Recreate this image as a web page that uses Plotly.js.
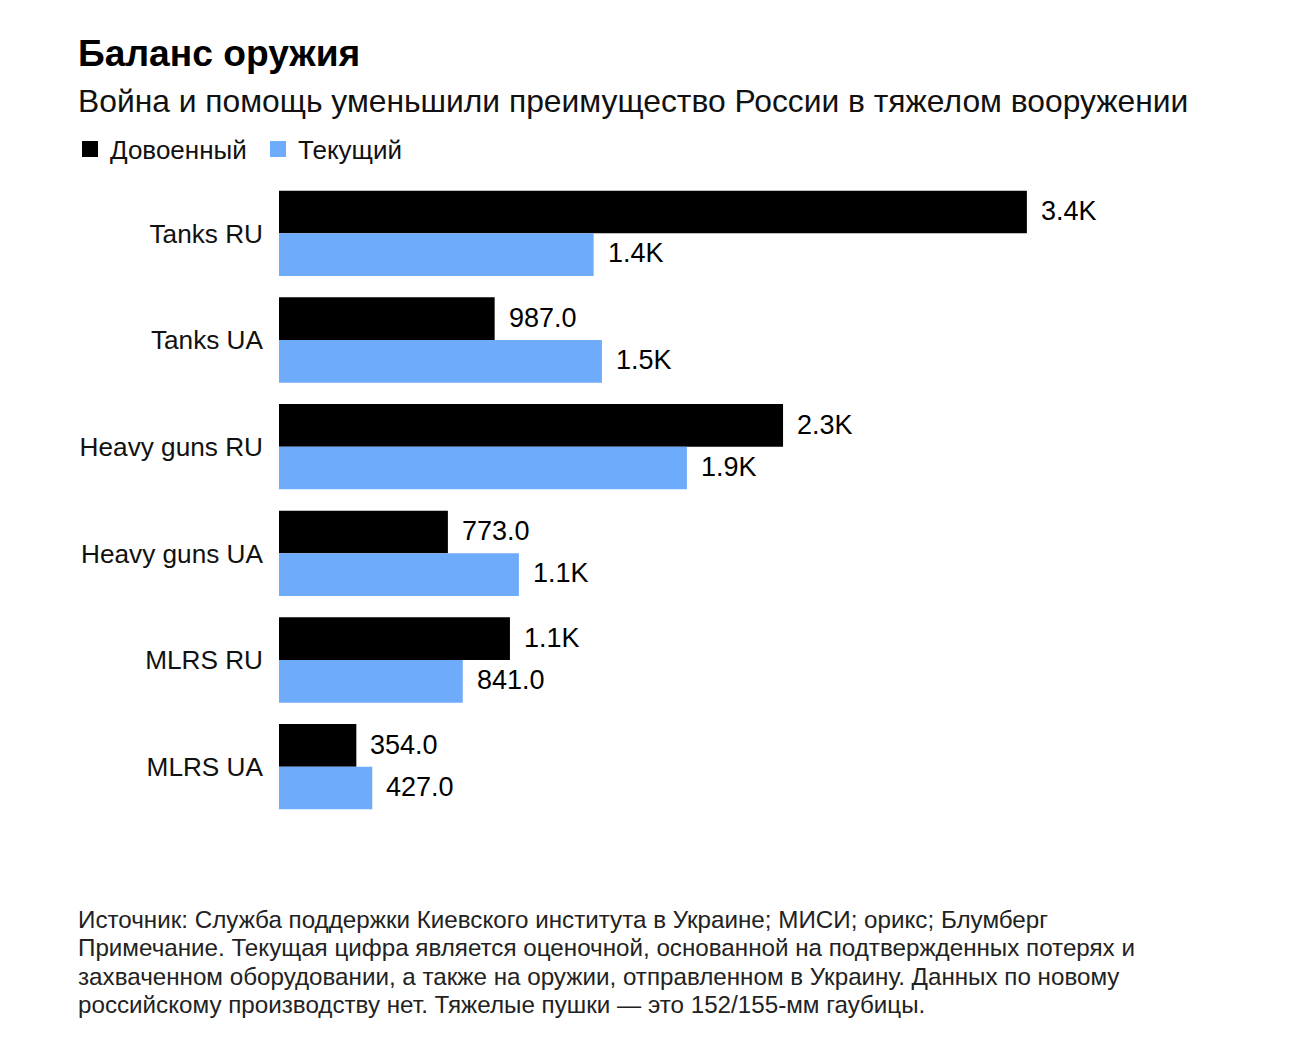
<!DOCTYPE html>
<html>
<head>
<meta charset="utf-8">
<script src="https://cdn.plot.ly/plotly-3.0.1.min.js"></script>
<style>html,body{margin:0;padding:0;background:#fff;}#chart{width:1314px;height:1049px;}</style>
</head>
<body>
<div id="chart"></div>
<script>
const categories = ["Tanks RU", "Tanks UA", "Heavy guns RU", "Heavy guns UA", "MLRS RU", "MLRS UA"];
const prewar = [3423, 987, 2307, 773, 1057, 354];
const current = [1440, 1478, 1867, 1098, 841, 427];
const seriesNames = ["Довоенный", "Текущий"];
const colors = ["#000000", "#6eabfa"];
const footnoteLines = [
  "Источник: Служба поддержки Киевского института в Украине; МИСИ; орикс; Блумберг",
  "Примечание. Текущая цифра является оценочной, основанной на подтвержденных потерях и",
  "захваченном оборудовании, а также на оружии, отправленном в Украину. Данных по новому",
  "российскому производству нет. Тяжелые пушки — это 152/155-мм гаубицы."
];

function fmt(v) {
  if (v >= 1000) return (Math.round(v / 100) / 10).toFixed(1) + "K";
  return v.toFixed(1);
}

const FONT = "Liberation Sans, Arial, sans-serif";
const PX0 = 279, PW = 955, PB = 820, PH = 640;
const px2x = p => (p - PX0) / PW;
const px2y = p => (PB - p) / PH;

const traces = [
  {type: "bar", orientation: "h", y: categories, x: prewar, name: seriesNames[0],
   marker: {color: colors[0]}, showlegend: false, hoverinfo: "x+name"},
  {type: "bar", orientation: "h", y: categories, x: current, name: seriesNames[1],
   marker: {color: colors[1]}, showlegend: false, hoverinfo: "x+name"},
  {type: "scatter", mode: "markers", x: [null], y: [null], name: seriesNames[0],
   marker: {color: colors[0], symbol: "square", size: 18}},
  {type: "scatter", mode: "markers", x: [null], y: [null], name: seriesNames[1],
   marker: {color: colors[1], symbol: "square", size: 18}}
];

const annotations = [];
categories.forEach((c, i) => {
  annotations.push({x: prewar[i], y: c, xref: "x", yref: "y", text: fmt(prewar[i]),
    showarrow: false, xanchor: "left", yanchor: "middle", xshift: 12, yshift: 22,
    font: {family: FONT, size: 27, color: "#000"}});
  annotations.push({x: current[i], y: c, xref: "x", yref: "y", text: fmt(current[i]),
    showarrow: false, xanchor: "left", yanchor: "middle", xshift: 12, yshift: -20,
    font: {family: FONT, size: 27, color: "#000"}});
});

annotations.push({
  xref: "paper", yref: "paper", x: px2x(76), y: px2y(101), xanchor: "left", yanchor: "middle",
  text: "Война и помощь уменьшили преимущество России в тяжелом вооружении",
  showarrow: false, font: {family: FONT, size: 31.8, color: "#111"}
});

const lineCenters = [919, 947.5, 976, 1004.5];
footnoteLines.forEach((t, i) => {
  annotations.push({
    xref: "paper", yref: "paper", x: px2x(76), y: px2y(lineCenters[i]), xanchor: "left", yanchor: "middle",
    align: "left", showarrow: false, text: t,
    font: {family: FONT, size: 24.2, color: "#222"}
  });
});

const layout = {
  width: 1314, height: 1049,
  paper_bgcolor: "#fff", plot_bgcolor: "#fff",
  margin: {l: 279, r: 80, t: 180, b: 229, pad: 0},
  font: {family: FONT, color: "#000"},
  title: {text: "<b>Баланс оружия</b>", xref: "container", yref: "container",
    x: 78 / 1314, xanchor: "left", y: 1 - 53 / 1049, yanchor: "middle",
    font: {family: FONT, size: 37.2, color: "#000"}},
  barmode: "group", bargap: 0.2, bargroupgap: 0,
  xaxis: {range: [0, 4371], showgrid: false, zeroline: false, showticklabels: false,
    ticks: "", showline: false, fixedrange: true},
  yaxis: {autorange: "reversed", showgrid: false, zeroline: false, ticks: "",
    showline: false, ticklabelstandoff: 15, tickfont: {family: FONT, size: 26.2, color: "#111"}},
  legend: {orientation: "h", x: px2x(70), xanchor: "left", y: px2y(149), yanchor: "middle",
    font: {family: FONT, size: 26, color: "#111"}, itemclick: false, itemdoubleclick: false,
    bgcolor: "rgba(0,0,0,0)", tracegroupgap: 0, entrywidth: 143},
  annotations: annotations,
  showlegend: true
};

Plotly.newPlot("chart", traces, layout, {displayModeBar: false, staticPlot: true});
</script>
</body>
</html>
